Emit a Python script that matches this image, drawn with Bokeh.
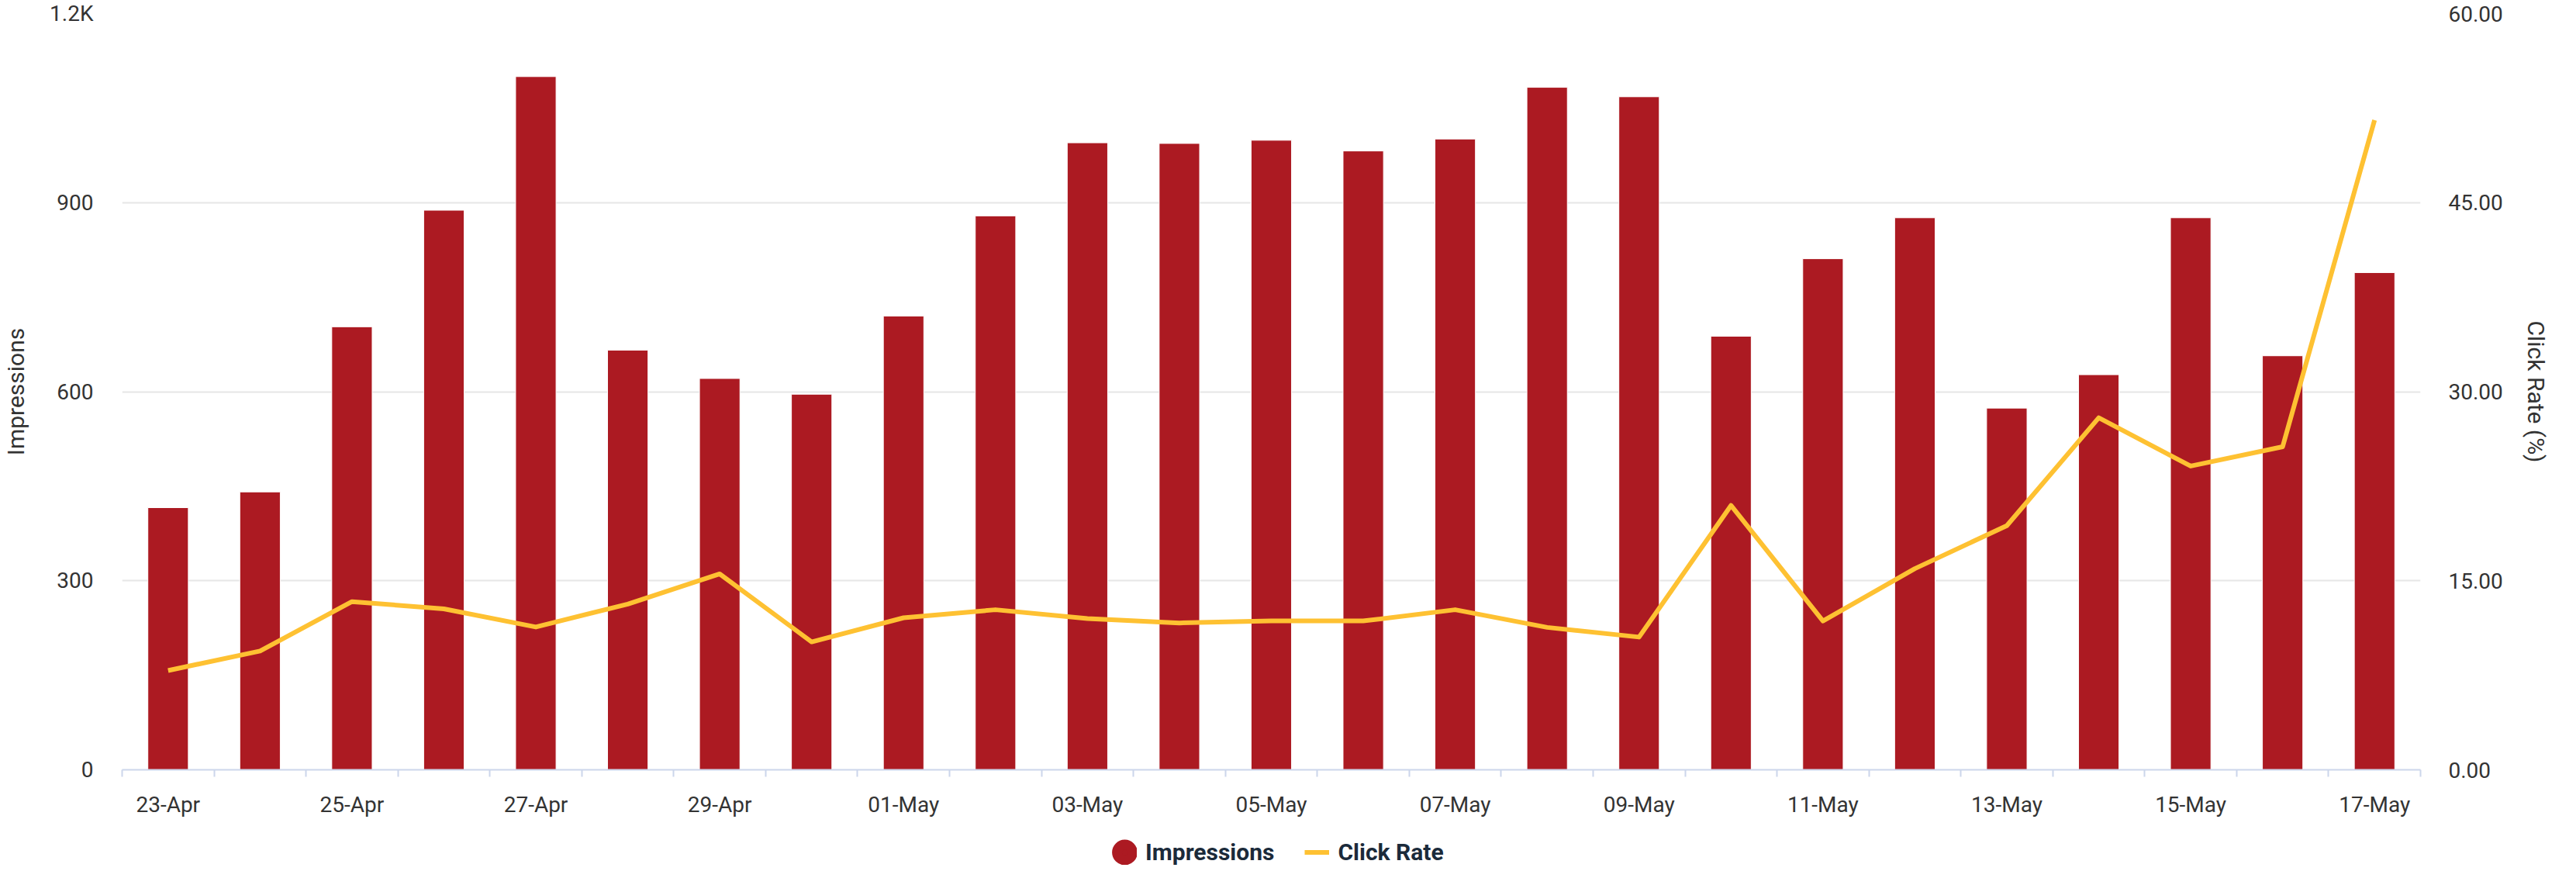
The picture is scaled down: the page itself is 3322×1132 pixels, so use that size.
from bokeh.plotting import figure
from bokeh.layouts import column
from bokeh.models import (Range1d, LinearAxis, FixedTicker, Legend, LegendItem,
                          ColumnDataSource, PrintfTickFormatter)
from bokeh.embed import file_html
from bokeh.resources import INLINE

# ---------------- data ----------------
dates = ["23-Apr", "24-Apr", "25-Apr", "26-Apr", "27-Apr", "28-Apr", "29-Apr", "30-Apr",
         "01-May", "02-May", "03-May", "04-May", "05-May", "06-May", "07-May", "08-May",
         "09-May", "10-May", "11-May", "12-May", "13-May", "14-May", "15-May", "16-May",
         "17-May"]
impressions = [416, 441, 703, 888, 1100, 666, 621, 596, 720, 879, 995, 994, 999, 982,
               1001, 1083, 1068, 688, 811, 876, 574, 627, 876, 657, 789]
click_rate = [7.88, 9.42, 13.34, 12.77, 11.33, 13.15, 15.54, 10.15, 12.06, 12.70, 12.00,
              11.65, 11.81, 11.81, 12.70, 11.30, 10.53, 20.97, 11.81, 15.96, 19.37, 27.93,
              24.10, 25.63, 51.55]
left_ticks = [0, 300, 600, 900, 1200]
left_tick_labels = ["0", "300", "600", "900", "1.2K"]
right_ticks = [0, 15, 30, 45, 60]
series_names = ["Impressions", "Click Rate"]

BAR = "#AC1A22"
LINE = "#FEC132"
TXT = "#333333"
FONT = "Roboto"

n = len(dates)
idx = list(range(n))
src = ColumnDataSource(dict(x=idx, imp=impressions, rate=click_rate, date=dates))

p = figure(width=3306, height=1060, output_backend="svg", toolbar_location=None,
           x_range=Range1d(-0.5, n - 0.5), y_range=Range1d(0, left_ticks[-1]),
           min_border_left=149, min_border_right=185, min_border_top=17,
           min_border_bottom=68)
p.extra_y_ranges = {"rate": Range1d(0, right_ticks[-1])}
p.outline_line_color = None
p.background_fill_color = "white"
p.border_fill_color = "white"

# grid
p.xgrid.grid_line_color = None
p.ygrid.grid_line_color = "#e6e6e6"
p.ygrid.grid_line_width = 2

# x axis
xa = p.xaxis[0]
xa.ticker = FixedTicker(ticks=idx[::2], minor_ticks=[i - 0.5 for i in range(n + 1)])
xa.major_label_overrides = {i: dates[i] for i in idx[::2]}
xa.major_tick_in = 0
xa.major_tick_out = 0
xa.minor_tick_in = 0
xa.minor_tick_out = 9
xa.minor_tick_line_color = "#ccd6eb"
xa.minor_tick_line_width = 2
xa.axis_line_color = "#ccd6eb"
xa.axis_line_width = 2
xa.major_label_standoff = 19
xa.major_label_text_font = FONT
xa.major_label_text_font_size = "28px"
xa.major_label_text_color = TXT

# left axis
ya = p.yaxis[0]
ya.ticker = FixedTicker(ticks=left_ticks)
ya.major_label_overrides = {t: l for t, l in zip(left_ticks, left_tick_labels)}
ya.axis_line_color = None
ya.major_tick_line_color = None
ya.minor_tick_line_color = None
ya.major_label_standoff = 31
ya.major_label_text_font = FONT
ya.major_label_text_font_size = "28px"
ya.major_label_text_color = TXT
ya.axis_label = "Impressions"
ya.axis_label_text_font = FONT
ya.axis_label_text_font_size = "30px"
ya.axis_label_text_font_style = "normal"
ya.axis_label_text_color = TXT
ya.axis_label_standoff = 23

# right axis
ra = LinearAxis(y_range_name="rate", ticker=FixedTicker(ticks=right_ticks),
                formatter=PrintfTickFormatter(format="%.2f"))
ra.axis_line_color = None
ra.major_tick_line_color = None
ra.minor_tick_line_color = None
ra.major_label_standoff = 30
ra.major_label_text_font = FONT
ra.major_label_text_font_size = "28px"
ra.major_label_text_color = TXT
ra.axis_label = "Click Rate (%)"
ra.axis_label_text_font = FONT
ra.axis_label_text_font_size = "30px"
ra.axis_label_text_font_style = "normal"
ra.axis_label_text_color = TXT
ra.axis_label_standoff = 22
p.add_layout(ra, "right")

# glyphs
p.vbar(x="x", top="imp", width=0.44, source=src, fill_color=BAR,
       line_color="white", line_width=1)
p.line(x="x", y="rate", source=src, y_range_name="rate", line_color=LINE,
       line_width=6, line_join="round")

# ---------------- legend strip below the chart ----------------
lp = figure(width=3306, height=56, output_backend="svg", toolbar_location=None,
            min_border=0, x_axis_type=None, y_axis_type=None)
lp.outline_line_color = None
lp.xgrid.grid_line_color = None
lp.ygrid.grid_line_color = None
lp.border_fill_color = "white"
lp.background_fill_color = "white"
r_bar = lp.scatter(x=[float("nan")], y=[float("nan")], marker="circle", size=13,
                   fill_color=BAR, line_color=BAR, line_width=20)
r_line = lp.line(x=[float("nan"), float("nan")], y=[float("nan"), float("nan")],
                 line_color=LINE, line_width=6)
leg = Legend(items=[LegendItem(label=series_names[0], renderers=[r_bar]),
                    LegendItem(label=series_names[1], renderers=[r_line])],
             orientation="horizontal", location=(1277, 0),
             glyph_width=32, glyph_height=33, label_standoff=11, spacing=39,
             padding=0, margin=0, border_line_color=None, background_fill_alpha=0,
             label_text_font=FONT, label_text_font_size="30px",
             label_text_font_style="bold", label_text_color="#1b2a3a")
lp.add_layout(leg)

layout = column(p, lp, spacing=0)
open("out.html", "w").write(file_html(layout, INLINE))
